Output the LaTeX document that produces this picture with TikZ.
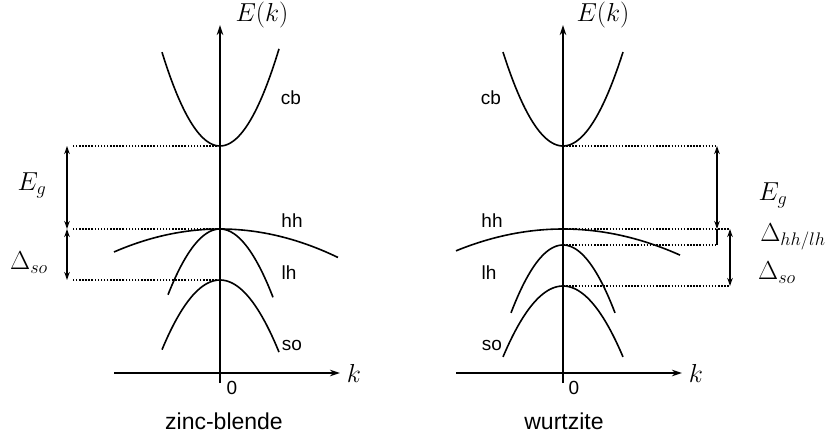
\RequirePackage{fix-cm}
\documentclass[tikz,border=0pt]{standalone}
\usepackage{fontspec}
\setsansfont{Liberation Sans}
\usetikzlibrary{arrows.meta,calc}
\tikzset{AXIS/.style={line width=1.6pt, -{Stealth[length=10pt,width=6.5pt]}}}
\tikzset{BAND/.style={line width=1.6pt}}
\tikzset{GAP/.style={line width=1.6pt, {Stealth[length=8pt,width=5.5pt]}-{Stealth[length=8pt,width=5.5pt]}}}
\tikzset{LEVEL/.style={line width=1.5pt, dash pattern=on 1.5pt off 1.6pt}}
\tikzset{BANDNAME/.style={font=\sffamily\fontsize{19}{22}\selectfont, inner sep=0pt}}
\tikzset{MATHLABEL/.style={font=\fontsize{26}{30}\selectfont, inner sep=0pt}}
\tikzset{TITLE/.style={font=\sffamily\fontsize{23}{27}\selectfont, inner sep=0pt}}

\begin{document}
\begin{tikzpicture}[x=1pt, y=-1pt]
    \useasboundingbox (0,0) rectangle (830,438);

    % zinc-blende
    \coordinate (zb_top) at (220,25);
    \coordinate (zb_bot) at (220,383);
    \coordinate (zb_kl) at (114,373);
    \coordinate (zb_kr) at (340,373);
    \draw[AXIS] (zb_bot) -- (zb_top);
    \draw[AXIS] (zb_kl) -- (zb_kr);
    \node[MATHLABEL] (zb_ek) at (262,15) {$E(k)$};
    \node[MATHLABEL] (zb_k) at (354,373) {$k$};
    \node[BANDNAME] (zb_zero) at (232,388) {0};

    \draw[BAND] plot[domain=-58:59, samples=50] ({220+\x}, {146-0.0279*\x*\x});
    \draw[BAND] plot[domain=-106:118, samples=50] ({220+\x}, {229+0.00205*\x*\x});
    \draw[BAND] plot[domain=-52:53, samples=50] ({220+\x}, {229+0.0243*\x*\x});
    \draw[BAND] plot[domain=-58:59, samples=50] ({220+\x}, {280+0.0207*\x*\x});

    \node[BANDNAME] (zb_cb) at (291,98) {cb};
    \node[BANDNAME] (zb_hh) at (292,221) {hh};
    \node[BANDNAME] (zb_lh) at (289,273) {lh};
    \node[BANDNAME] (zb_so) at (292,345) {so};

    \coordinate (zb_c) at (220,146);
    \coordinate (zb_v) at (220,229);
    \coordinate (zb_s) at (220,280);
    \coordinate (zb_c_end) at (73,146);
    \coordinate (zb_v_end) at (73,229);
    \coordinate (zb_s_end) at (73,280);
    \draw[LEVEL] (zb_c) -- (zb_c_end);
    \draw[LEVEL] (zb_v) -- (zb_v_end);
    \draw[LEVEL] (zb_s) -- (zb_s_end);
    \draw[GAP] ($(zb_c_end)+(-6,0)$) -- ($(zb_v_end)+(-6,0)$);
    \draw[GAP] ($(zb_v_end)+(-6,0)$) -- ($(zb_s_end)+(-6,0)$);
    \node[MATHLABEL] (zb_eg) at (32,185) {$E_g$};
    \node[MATHLABEL] (zb_dso) at (29,263) {$\Delta_{so}$};
    \node[TITLE] (zb_name) at (224,421) {zinc-blende};

    % wurtzite
    \coordinate (wz_top) at (563,25);
    \coordinate (wz_bot) at (563,383);
    \coordinate (wz_kl) at (456,373);
    \coordinate (wz_kr) at (682,373);
    \draw[AXIS] (wz_bot) -- (wz_top);
    \draw[AXIS] (wz_kl) -- (wz_kr);
    \node[MATHLABEL] (wz_ek) at (603,15) {$E(k)$};
    \node[MATHLABEL] (wz_k) at (696,373) {$k$};
    \node[BANDNAME] (wz_zero) at (574,388) {0};

    \draw[BAND] plot[domain=-60:60, samples=50] ({563+\x}, {146-0.0261*\x*\x});
    \draw[BAND] plot[domain=-107:117, samples=50] ({563+\x}, {229+0.0019*\x*\x});
    \draw[BAND] plot[domain=-52:52, samples=50] ({563+\x}, {245+0.0251*\x*\x});
    \draw[BAND] plot[domain=-60:60, samples=50] ({563+\x}, {286+0.0197*\x*\x});

    \node[BANDNAME] (wz_cb) at (491,98) {cb};
    \node[BANDNAME] (wz_hh) at (492,221) {hh};
    \node[BANDNAME] (wz_lh) at (489,273) {lh};
    \node[BANDNAME] (wz_so) at (492,345) {so};

    \coordinate (wz_c) at (563,146);
    \coordinate (wz_v) at (563,229);
    \coordinate (wz_l) at (563,245);
    \coordinate (wz_s) at (563,286);
    \coordinate (wz_c_end) at (717,146);
    \coordinate (wz_v_end) at (730,229);
    \coordinate (wz_l_end) at (717,245);
    \coordinate (wz_s_end) at (730,286);
    \draw[LEVEL] (wz_c) -- (wz_c_end);
    \draw[LEVEL] (wz_v) -- (wz_v_end);
    \draw[LEVEL] (wz_l) -- (wz_l_end);
    \draw[LEVEL] (wz_s) -- (wz_s_end);
    \draw[GAP] (wz_c_end) -- (wz_c_end|-wz_v);
    \draw[line width=1.6pt] (wz_c_end|-wz_v) -- (wz_l_end);
    \draw[GAP] (wz_v_end) -- (wz_s_end);
    \node[MATHLABEL] (wz_eg) at (773,195) {$E_g$};
    \node[MATHLABEL] (wz_dhl) at (793,237) {$\Delta_{hh/lh}$};
    \node[MATHLABEL] (wz_dso) at (777,273) {$\Delta_{so}$};
    \node[TITLE] (wz_name) at (564,421) {wurtzite};
\end{tikzpicture}
\end{document}
